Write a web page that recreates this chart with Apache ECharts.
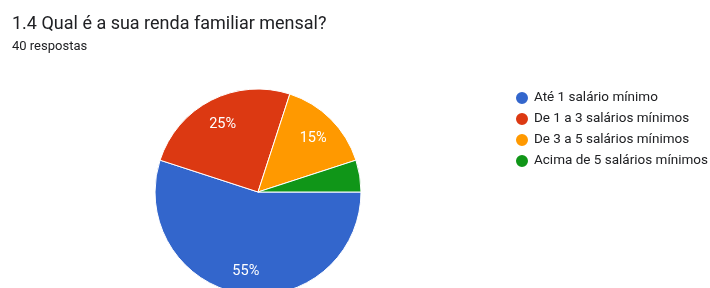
<!DOCTYPE html>
<html>
<head>
<meta charset="utf-8">
<script src="https://cdn.jsdelivr.net/npm/echarts@6/dist/echarts.min.js"></script>
<style>
  html, body { margin: 0; padding: 0; background: #fff; }
  #chart { width: 710px; height: 288px; }
</style>
</head>
<body>
<div id="chart"></div>
<script>
const categories = ['Até 1 salário mínimo', 'De 1 a 3 salários mínimos', 'De 3 a 5 salários mínimos', 'Acima de 5 salários mínimos']
const values = [22, 10, 6, 2]
const colors = ['#3366cc', '#dc3912', '#ff9900', '#109618']

const chart = echarts.init(document.getElementById('chart'))
const total = values.reduce((a, b) => a + b, 0)

chart.setOption({
  color: colors,
  animation: false,
  title: {
    text: '1.4 Qual é a sua renda familiar mensal?',
    subtext: '40 respostas',
    left: 7,
    top: 10,
    itemGap: 7,
    textStyle: { fontFamily: 'Roboto', fontSize: 18, fontWeight: 'normal', color: '#202124' },
    subtextStyle: { fontFamily: 'Roboto', fontSize: 13, color: '#202124' },
  },
  legend: {
    orient: 'vertical',
    left: 509,
    top: 85,
    icon: 'circle',
    itemWidth: 14,
    itemHeight: 14,
    itemGap: 5,
    data: categories,
    textStyle: { fontFamily: 'Roboto', fontSize: 13.5, color: '#202124' },
  },
  series: [
    {
      type: 'pie',
      center: [258, 192],
      radius: [0, 103],
      startAngle: 0,
      clockwise: true,
      silent: true,
      label: { show: false },
      labelLine: { show: false },
      itemStyle: { borderColor: '#fff', borderWidth: 1 },
      data: categories.map((c, i) => ({ name: c, value: values[i], itemStyle: { color: colors[i] } })),
    },
    {
      // invisible series only used to place labels further out
      type: 'pie',
      center: [258, 194],
      radius: [0, 150],
      startAngle: 0,
      clockwise: true,
      silent: true,
      z: 3,
      itemStyle: { color: 'transparent', borderWidth: 0 },
      label: {
        show: true,
        position: 'inside',
        fontFamily: 'Roboto',
        fontSize: 14.5,
        color: '#fff',
        formatter: (p) => (p.value / total < 0.08 ? '' : Math.round(p.value / total * 100) + '%'),
      },
      labelLine: { show: false },
      data: categories.map((c, i) => ({ name: c, value: values[i] })),
    },
  ],
})
</script>
</body>
</html>
